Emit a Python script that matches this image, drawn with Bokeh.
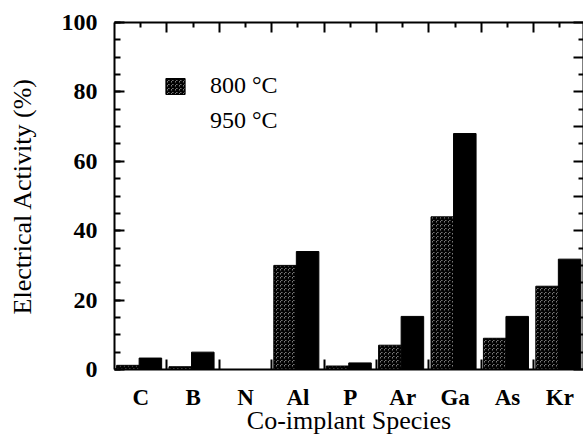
from bokeh.plotting import figure
from bokeh.models import (LinearAxis, FixedTicker, SingleIntervalTicker, Range1d,
                          Legend, LegendItem, ColumnDataSource)
from bokeh.embed import file_html
from bokeh.resources import INLINE
import numpy as np

# ---- data ----
species = ["C", "B", "N", "Al", "P", "Ar", "Ga", "As", "Kr"]
act_800 = [1.2, 0.8, 0.0, 30.0, 1.0, 7.0, 44.0, 9.0, 24.0]
act_950 = [3.3, 5.0, 0.0, 34.0, 1.9, 15.3, 68.0, 15.3, 31.8]
series_labels = ["800 °C", "950 °C"]
y_ticks_major = 20

FONT = "Liberation Serif"
idx = np.arange(len(species))

src = ColumnDataSource(dict(
    x8=idx + 0.255, x9=idx + 0.685, t8=act_800, t9=act_950, name=species))

p = figure(width=583, height=437, output_backend="svg", toolbar_location=None,
           x_range=Range1d(0, 8.95), y_range=Range1d(0, 100),
           min_border_left=114, min_border_right=0, min_border_top=22,
           min_border_bottom=68, background_fill_color="white",
           border_fill_color="white", outline_line_color=None)
p.xgrid.visible = False
p.ygrid.visible = False
p.xaxis.visible = False
p.yaxis.visible = False

r8 = p.vbar(x="x8", top="t8", width=0.43, source=src, fill_color="white",
            line_color="black", line_width=1, hatch_pattern="criss_cross",
            hatch_color="black", hatch_scale=4, hatch_weight=1.5)
r9 = p.vbar(x="x9", top="t9", width=0.43, source=src, fill_color="black",
            line_color="black", line_width=1)
# invisible stand-in for the 950 legend swatch (not visible in the reference)
r9_leg = p.vbar(x=[], top=[], width=0.4, fill_alpha=0, line_alpha=0)

def style(ax):
    ax.axis_line_width = 2
    ax.axis_line_color = "black"
    ax.major_tick_line_width = 2
    ax.minor_tick_line_width = 2
    ax.major_tick_out = 0
    ax.minor_tick_out = 0
    ax.major_label_text_font = FONT
    ax.axis_label_text_font = FONT
    ax.axis_label_text_font_style = "normal"
    ax.major_label_text_color = "black"
    ax.axis_label_text_color = "black"

# left axis
left = LinearAxis(ticker=SingleIntervalTicker(interval=y_ticks_major, num_minor_ticks=4),
                  axis_label="Electrical Activity (%)")
style(left)
left.major_tick_in = 10
left.minor_tick_in = 6
left.major_label_text_font_size = "24px"
left.major_label_text_font_style = "bold"
left.major_label_standoff = 17
left.axis_label_text_font_size = "26px"
left.axis_label_standoff = 22
p.add_layout(left, "left")

# right axis (ticks only)
r_major = [float(v) for v in range(0, 101, 10)]
r_minor = [v + 5.0 for v in r_major[:-1]]
right = LinearAxis(ticker=FixedTicker(ticks=r_major, minor_ticks=r_minor))
style(right)
right.major_tick_in = 10
right.minor_tick_in = 5
right.major_label_overrides = {v: "" for v in r_major}
right.major_label_standoff = 0
p.add_layout(right, "right")

# bottom axis: labels at category centres, small ticks between groups
centres = [float(c) for c in idx + 0.5]
bounds = [float(b) for b in idx[1:]]
bottom = LinearAxis(ticker=FixedTicker(ticks=centres, minor_ticks=bounds),
                    axis_label="Co-implant Species")
style(bottom)
bottom.major_tick_in = 0
bottom.minor_tick_in = 10
bottom.major_label_overrides = {c: s for c, s in zip(centres, species)}
bottom.major_label_text_font_size = "23px"
bottom.major_label_text_font_style = "bold"
bottom.major_label_standoff = 15
bottom.axis_label_text_font_size = "26px"
bottom.axis_label_text_line_height = 0.8
bottom.axis_label_standoff = -7
p.add_layout(bottom, "below")

# top axis (ticks only)
top = LinearAxis(ticker=FixedTicker(ticks=bounds, minor_ticks=centres))
style(top)
top.major_tick_in = 10
top.minor_tick_in = 5
top.major_label_overrides = {b: "" for b in bounds}
top.major_label_standoff = 0
p.add_layout(top, "above")

legend = Legend(items=[LegendItem(label=series_labels[0], renderers=[r8]),
                       LegendItem(label=series_labels[1], renderers=[r9_leg])],
                location=(49, 235), padding=0, margin=0, spacing=8,
                glyph_width=24, glyph_height=20, label_standoff=23,
                label_text_font=FONT, label_text_font_size="24px",
                label_text_color="black",
                border_line_color=None, background_fill_alpha=0)
p.add_layout(legend, "center")

open("out.html", "w").write(file_html(p, INLINE))
